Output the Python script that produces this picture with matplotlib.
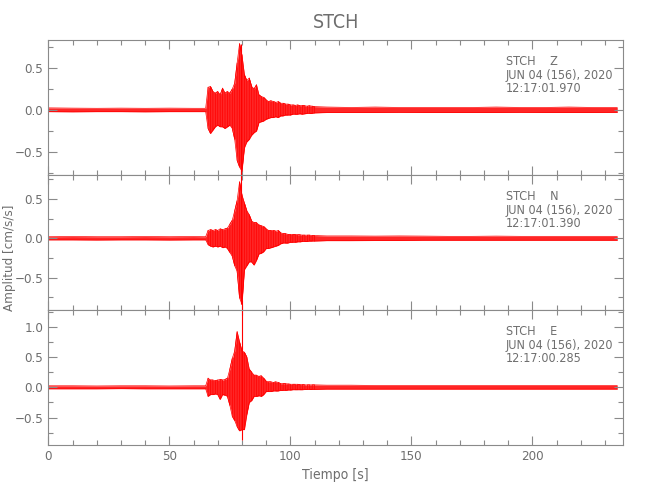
import numpy as np
import matplotlib
matplotlib.use("Agg")
import matplotlib.pyplot as plt
from matplotlib.ticker import MultipleLocator

# tiempos de muestreo de la envolvente [s]
t_pre = [0, 10, 20, 30, 40, 50, 60, 65]
t_sismo = list(range(66, 111))
t_post = [115, 125, 135, 145, 155, 165, 175, 185, 195, 205, 215, 225, 235]
tiempo = t_pre + t_sismo + t_post

# componente Z
z_sup = ([0.025, 0.022, 0.02, 0.022, 0.02, 0.022, 0.02, 0.02] +
         [0.27, 0.28, 0.22, 0.2, 0.22, 0.18, 0.26, 0.2, 0.22, 0.2, 0.25, 0.32, 0.56, 0.79, 0.65,
          0.42, 0.35, 0.38, 0.28, 0.25, 0.3, 0.18, 0.16, 0.15, 0.12, 0.1, 0.11, 0.1, 0.09, 0.1,
          0.08, 0.08, 0.07, 0.07, 0.06, 0.06, 0.055, 0.06, 0.05, 0.055, 0.05, 0.045, 0.05, 0.045, 0.04] +
         [0.035, 0.03, 0.035, 0.03, 0.03, 0.03, 0.03, 0.035, 0.03, 0.03, 0.035, 0.03, 0.03])
z_inf = ([-0.02, -0.022, -0.02, -0.02, -0.022, -0.02, -0.02, -0.02] +
         [-0.22, -0.28, -0.24, -0.2, -0.18, -0.2, -0.2, -0.22, -0.2, -0.18, -0.22, -0.35, -0.6, -0.68, -0.73,
          -0.45, -0.38, -0.35, -0.3, -0.27, -0.25, -0.15, -0.14, -0.13, -0.11, -0.1, -0.09, -0.09, -0.08, -0.09,
          -0.07, -0.07, -0.06, -0.06, -0.06, -0.05, -0.05, -0.05, -0.045, -0.05, -0.045, -0.04, -0.04, -0.04, -0.035] +
         [-0.03, -0.03, -0.03, -0.028, -0.03, -0.03, -0.03, -0.03, -0.028, -0.03, -0.03, -0.03, -0.028])

# componente N
n_sup = ([0.02, 0.022, 0.02, 0.02, 0.022, 0.02, 0.022, 0.02] +
         [0.1, 0.11, 0.1, 0.11, 0.1, 0.12, 0.11, 0.12, 0.13, 0.18, 0.23, 0.35, 0.48, 0.72, 0.55,
          0.45, 0.35, 0.3, 0.22, 0.2, 0.2, 0.17, 0.16, 0.15, 0.12, 0.1, 0.1, 0.1, 0.09, 0.1,
          0.07, 0.06, 0.06, 0.05, 0.05, 0.05, 0.05, 0.045, 0.045, 0.04, 0.04, 0.04, 0.04, 0.035, 0.035] +
         [0.03, 0.03, 0.028, 0.03, 0.028, 0.025, 0.025, 0.028, 0.025, 0.025, 0.025, 0.025, 0.025])
n_inf = ([-0.02, -0.02, -0.022, -0.02, -0.02, -0.022, -0.02, -0.02] +
         [-0.08, -0.1, -0.11, -0.1, -0.11, -0.1, -0.12, -0.11, -0.13, -0.18, -0.23, -0.35, -0.42, -0.76, -0.84,
          -0.4, -0.35, -0.3, -0.3, -0.34, -0.28, -0.2, -0.19, -0.17, -0.13, -0.13, -0.12, -0.11, -0.1, -0.09,
          -0.07, -0.06, -0.06, -0.06, -0.05, -0.05, -0.05, -0.045, -0.045, -0.04, -0.04, -0.04, -0.035, -0.035, -0.035] +
         [-0.03, -0.03, -0.028, -0.028, -0.025, -0.025, -0.025, -0.025, -0.025, -0.025, -0.025, -0.025, -0.025])

# componente E
e_sup = ([0.025, 0.025, 0.022, 0.025, 0.025, 0.022, 0.025, 0.025] +
         [0.15, 0.12, 0.12, 0.11, 0.12, 0.13, 0.12, 0.13, 0.15, 0.3, 0.48, 0.6, 0.92, 0.75, 0.6,
          0.58, 0.5, 0.3, 0.25, 0.2, 0.2, 0.18, 0.19, 0.15, 0.1, 0.09, 0.09, 0.08, 0.09, 0.08,
          0.06, 0.06, 0.06, 0.055, 0.05, 0.05, 0.05, 0.05, 0.045, 0.045, 0.04, 0.04, 0.04, 0.04, 0.04] +
         [0.035, 0.035, 0.03, 0.03, 0.03, 0.03, 0.03, 0.03, 0.03, 0.03, 0.03, 0.03, 0.03])
e_inf = ([-0.025, -0.025, -0.025, -0.022, -0.025, -0.025, -0.025, -0.025] +
         [-0.15, -0.12, -0.12, -0.11, -0.12, -0.2, -0.12, -0.13, -0.15, -0.3, -0.48, -0.55, -0.65, -0.72, -0.7,
          -0.7, -0.45, -0.25, -0.22, -0.15, -0.15, -0.14, -0.15, -0.12, -0.07, -0.07, -0.07, -0.06, -0.06, -0.06,
          -0.05, -0.05, -0.05, -0.045, -0.045, -0.04, -0.04, -0.04, -0.04, -0.04, -0.035, -0.035, -0.035, -0.035, -0.035] +
         [-0.03, -0.03, -0.03, -0.03, -0.03, -0.03, -0.03, -0.03, -0.03, -0.03, -0.03, -0.03, -0.03])

# picos aislados (tiempo, minimo, maximo)
z_pico = (79.4, -0.82, 0.79)
n_pico = (79.6, -0.84, 0.87)
e_pico = (80.0, -0.87, 1.45)

componentes = ["Z", "N", "E"]
horas = ["12:17:01.970", "12:17:01.390", "12:17:00.285"]
limites_y = [(-0.774, 0.833), (-0.913, 0.806), (-0.954, 1.278)]

gris = "#6e6e6e"
gris_eje = "#8a8a8a"
plt.rcParams['font.family'] = ["DejaVu Sans"]
plt.rcParams['font.stretch'] = "condensed"
plt.rcParams['axes.unicode_minus'] = True

i0, i1 = len(t_pre), len(t_pre) + len(t_sismo)


def zigzag(sup, inf):
    # alterna maximo y minimo en cada instante del sismo
    xs, ys = [], []
    for k in range(i0, i1):
        xs += [tiempo[k], tiempo[k]]
        if k % 2 == 0:
            ys += [sup[k], inf[k]]
        else:
            ys += [inf[k], sup[k]]
    return xs, ys


def panel(ax, sup, inf, pico, comp, hora, lim):
    ax.fill_between(tiempo, inf, sup, color="red", lw=0, alpha=0.85)
    ax.plot(tiempo, sup, color="red", lw=0.5)
    ax.plot(tiempo, inf, color="red", lw=0.5)
    xs, ys = zigzag(sup, inf)
    ax.plot(xs, ys, color="red", lw=0.5)
    ax.vlines(pico[0], pico[1], pico[2], color="red", lw=0.8, clip_on=False)

    ax.set_xlim(0, 237.5)
    ax.set_ylim(*lim)
    ax.xaxis.set_major_locator(MultipleLocator(50))
    ax.xaxis.set_minor_locator(MultipleLocator(10))
    ax.yaxis.set_major_locator(MultipleLocator(0.5))
    ax.yaxis.set_minor_locator(MultipleLocator(0.25))
    ax.tick_params(which="both", direction="in", top=True, right=True, color=gris_eje,
                   labelcolor=gris, labelsize=9.5, width=0.8)
    ax.tick_params(which="major", length=6.5)
    ax.tick_params(which="minor", length=3.5)
    for s in ax.spines.values():
        s.set_color(gris_eje)
        s.set_linewidth(0.8)

    for j, linea in enumerate(["STCH    " + comp, "JUN 04 (156), 2020", hora]):
        ax.text(0.796, 0.84 - 0.1 * j, linea, transform=ax.transAxes, color=gris,
                fontsize=9, va="center")


fig = plt.figure(figsize=(6.5, 5), dpi=100)
izq, ancho, alto = 0.0743, 0.8846, 0.27
bases = [0.65, 0.38, 0.11]
datos = [(z_sup, z_inf, z_pico), (n_sup, n_inf, n_pico), (e_sup, e_inf, e_pico)]

ejes = []
for i in range(3):
    ax = fig.add_axes([izq, bases[i], ancho, alto])
    sup, inf, pico = datos[i]
    panel(ax, sup, inf, pico, componentes[i], horas[i], limites_y[i])
    if i < 2:
        ax.tick_params(labelbottom=False)
    ejes.append(ax)

ejes[0].set_title("STCH", color=gris, fontsize=14, pad=9)
ejes[2].set_xlabel("Tiempo [s]", color=gris, fontsize=10, labelpad=4)
fig.text(0.014, 0.485, "Amplitud [cm/s/s]", rotation=90, color=gris, fontsize=9.5,
         ha="center", va="center")

fig.savefig("out.png", dpi=100)
